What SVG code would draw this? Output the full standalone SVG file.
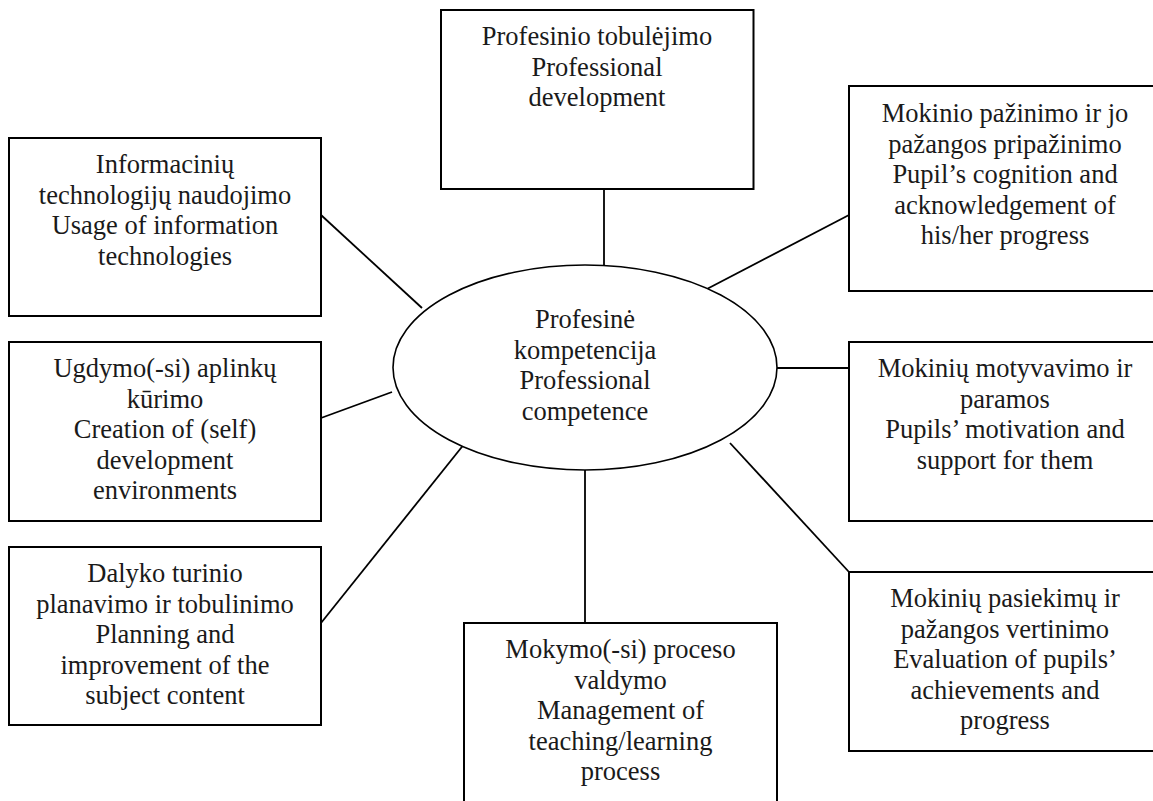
<svg xmlns="http://www.w3.org/2000/svg" width="1153" height="801" viewBox="0 0 1153 801">
<style>
.box{fill:#fff;stroke:#000;stroke-width:2}
.ell{fill:#fff;stroke:#000;stroke-width:1.6}
.ln{stroke:#000;stroke-width:1.8;fill:none}
text{font-family:"Liberation Serif","Times New Roman",serif;font-size:26.5px;fill:#1a1a1a;text-anchor:middle}
</style>
<rect width="1153" height="801" fill="#fff"/>
<g id="connectors">
<line class="ln" x1="604" y1="189" x2="604" y2="265"/>
<line class="ln" x1="849" y1="215" x2="705" y2="290"/>
<line class="ln" x1="321" y1="215" x2="422" y2="308"/>
<line class="ln" x1="321" y1="418" x2="392" y2="392"/>
<line class="ln" x1="777" y1="368" x2="849" y2="368"/>
<line class="ln" x1="321" y1="623" x2="465" y2="443"/>
<line class="ln" x1="585" y1="470" x2="585" y2="623"/>
<line class="ln" x1="730" y1="443" x2="849" y2="572"/>
</g>
<g id="center">
<ellipse class="ell" cx="585" cy="367.5" rx="192" ry="102.5"/>
<text x="585" y="328">Profesinė</text>
<text x="585" y="358.5">kompetencija</text>
<text x="585" y="389">Professional</text>
<text x="585" y="419.5">competence</text>
</g>
<g id="n-prof-dev">
<rect class="box" x="441" y="10" width="312.5" height="179"/>
<text x="597" y="45">Profesinio tobulėjimo</text>
<text x="597" y="75.5">Professional</text>
<text x="597" y="106">development</text>
</g>
<g id="n-info">
<rect class="box" x="9" y="138" width="312" height="178"/>
<text x="165" y="173">Informacinių</text>
<text x="165" y="203.5">technologijų naudojimo</text>
<text x="165" y="234">Usage of information</text>
<text x="165" y="264.5">technologies</text>
</g>
<g id="n-env">
<rect class="box" x="9" y="342" width="312" height="179"/>
<text x="165" y="377">Ugdymo(-si) aplinkų</text>
<text x="165" y="407.5">kūrimo</text>
<text x="165" y="438">Creation of (self)</text>
<text x="165" y="468.5">development</text>
<text x="165" y="499">environments</text>
</g>
<g id="n-subject">
<rect class="box" x="9" y="547" width="312" height="178"/>
<text x="165" y="582">Dalyko turinio</text>
<text x="165" y="612.5">planavimo ir tobulinimo</text>
<text x="165" y="643">Planning and</text>
<text x="165" y="673.5">improvement of the</text>
<text x="165" y="704">subject content</text>
</g>
<g id="n-process">
<rect class="box" x="464" y="623" width="313" height="200"/>
<text x="620.5" y="658">Mokymo(-si) proceso</text>
<text x="620.5" y="688.5">valdymo</text>
<text x="620.5" y="719">Management of</text>
<text x="620.5" y="749.5">teaching/learning</text>
<text x="620.5" y="780">process</text>
</g>
<g id="n-cognition">
<rect class="box" x="849" y="86" width="320" height="205"/>
<text x="1005" y="122">Mokinio pažinimo ir jo</text>
<text x="1005" y="152.5">pažangos pripažinimo</text>
<text x="1005" y="183">Pupil’s cognition and</text>
<text x="1005" y="213.5">acknowledgement of</text>
<text x="1005" y="244">his/her progress</text>
</g>
<g id="n-motivation">
<rect class="box" x="849" y="342" width="320" height="179"/>
<text x="1005" y="377">Mokinių motyvavimo ir</text>
<text x="1005" y="407.5">paramos</text>
<text x="1005" y="438">Pupils’ motivation and</text>
<text x="1005" y="468.5">support for them</text>
</g>
<g id="n-evaluation">
<rect class="box" x="849" y="572" width="320" height="179"/>
<text x="1005" y="607">Mokinių pasiekimų ir</text>
<text x="1005" y="637.5">pažangos vertinimo</text>
<text x="1005" y="668">Evaluation of pupils’</text>
<text x="1005" y="698.5">achievements and</text>
<text x="1005" y="729">progress</text>
</g>
</svg>
